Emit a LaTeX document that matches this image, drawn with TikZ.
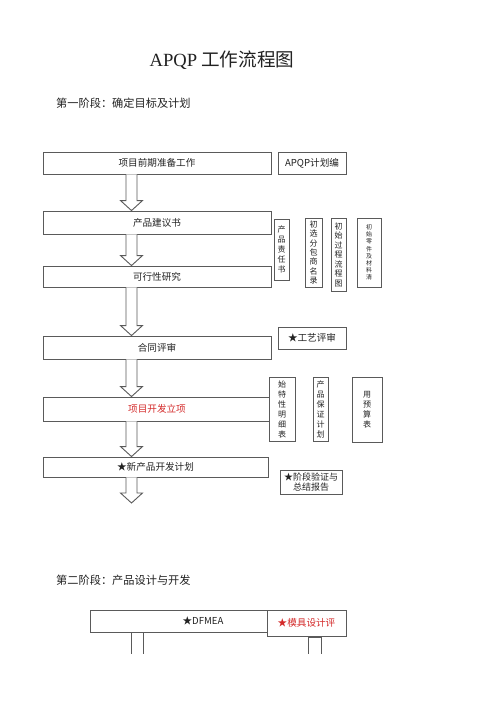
\documentclass[tikz,border=0pt]{standalone}
\usepackage{fontspec}
\setmainfont{Noto Sans CJK SC}
\newfontfamily\serifl{Liberation Serif}
\usetikzlibrary{calc}
\definecolor{linegray}{HTML}{5A5A5A}
\definecolor{txt}{HTML}{222222}
\definecolor{redtxt}{HTML}{D42A2A}
\tikzset{
  box/.style={draw=linegray, line width=0.9pt, fill=white, rectangle, inner sep=0pt, text=txt, font=\fontsize{9.6}{11}\selectfont},
  mainbox/.style={box, minimum width=228pt},
  sidebox/.style={box, minimum width=68pt, minimum height=22pt},
  vbox/.style={box, align=center, font=\fontsize{8}{10}\selectfont},
  arrowline/.style={draw=linegray, line width=0.9pt, fill=white},
  heading/.style={anchor=west, inner sep=0pt, text=txt, font=\fontsize{11.2}{13}\selectfont}
}
\newcommand\blockarrow[2]{%
  \draw[arrowline] ($(#1.south -| axis)+(-5.5,0)$) -- ($(#2.north -| axis)+(-5.5,-10)$) -- ($(#2.north -| axis)+(-11,-10)$) -- (#2.north -| axis) -- ($(#2.north -| axis)+(11,-10)$) -- ($(#2.north -| axis)+(5.5,-10)$) -- ($(#1.south -| axis)+(5.5,0)$);}
\begin{document}
\begin{tikzpicture}[x=1pt,y=-1pt]
\useasboundingbox[fill=white] (0,0) rectangle (500,707);
\coordinate (axis) at (131.5,0);

% title and heading
\node[inner sep=0pt, text=txt, font=\fontsize{18.6}{22}\selectfont] (title) at (222,60) {{\serifl APQP} 工作流程图};
\node[heading] (phase1) at (56,103) {第一阶段：确定目标及计划};

% main column
\node[mainbox, minimum height=22pt] (b1) at (157,163) {项目前期准备工作};
\node[mainbox, minimum height=23pt] (b2) at (157,222.5) {产品建议书};
\node[mainbox, minimum height=21pt] (b3) at (157,276.5) {可行性研究};
\node[mainbox, minimum height=23pt] (b4) at (157,347.5) {合同评审};
\node[mainbox, minimum height=24pt, text=redtxt] (b5) at (157,409) {项目开发立项};
\node[box, minimum width=225pt, minimum height=20pt] (b6) at (155.5,467) {★新产品开发计划};
\coordinate (end1) at (131.5,503);

\blockarrow{b1}{b2}
\blockarrow{b2}{b3}
\blockarrow{b3}{b4}
\blockarrow{b4}{b5}
\blockarrow{b5}{b6}
\blockarrow{b6}{end1}

% side boxes
\node[sidebox] (apqp) at (312,163) {APQP计划编};
\node[sidebox] (gy) at (312,338) {★工艺评审};
\node[box, minimum width=62pt, minimum height=24pt, align=center, font=\fontsize{9}{10.5}\selectfont] (jd) at (311,482) {★阶段验证与\\总结报告};

% vertical boxes, row 1
\node[vbox, minimum width=15pt, minimum height=61pt] (v1) at (281.5,249.5) {产\\品\\责\\任\\书};
\node[vbox, minimum width=17pt, minimum height=69pt, font=\fontsize{8}{9.3}\selectfont] (v2) at (313.5,252.5) {初\\选\\分\\包\\商\\名\\录};
\node[vbox, minimum width=15pt, minimum height=73pt, font=\fontsize{8}{9.5}\selectfont] (v3) at (338.5,254.5) {初\\始\\过\\程\\流\\程\\图};
\node[vbox, minimum width=24pt, minimum height=69pt, font=\fontsize{6}{7.2}\selectfont] (v4) at (369,252.5) {初\\始\\零\\件\\及\\材\\料\\清};

% vertical boxes, row 2
\node[vbox, minimum width=26pt, minimum height=64pt] (w1) at (282,409) {始\\特\\性\\明\\细\\表};
\node[vbox, minimum width=15pt, minimum height=64pt] (w2) at (320.5,409) {产\\品\\保\\证\\计\\划};
\node[vbox, minimum width=30pt, minimum height=65pt] (w3) at (367,409.5) {用\\预\\算\\表};

% phase 2
\node[heading] (phase2) at (56,580) {第二阶段：产品设计与开发};
\node[box, minimum width=177pt, minimum height=22pt] (dfmea) at (178.5,621) {\hspace*{49pt}★DFMEA};
\node[box, minimum width=79pt, minimum height=26pt, text=redtxt] (mj) at (306.5,623) {★模具设计评};

\coordinate (s1) at (137,654);
\coordinate (s2) at (314.5,654);
\draw[draw=linegray, line width=0.9pt] ($(dfmea.south -| s1)+(-6,0)$) -- ($(s1)+(-6,0)$);
\draw[draw=linegray, line width=0.9pt] ($(dfmea.south -| s1)+(6,0)$) -- ($(s1)+(6,0)$);
\draw[draw=linegray, line width=0.9pt] ($(mj.south -| s2)+(-6.5,0)$) -- ($(s2)+(-6.5,0)$);
\draw[draw=linegray, line width=0.9pt] ($(mj.south -| s2)+(6.5,0)$) -- ($(s2)+(6.5,0)$);
\draw[draw=linegray, line width=0.9pt] ($(mj.south -| s2)+(-6.5,1)$) -- ($(mj.south -| s2)+(6.5,1)$);
\end{tikzpicture}
\end{document}
